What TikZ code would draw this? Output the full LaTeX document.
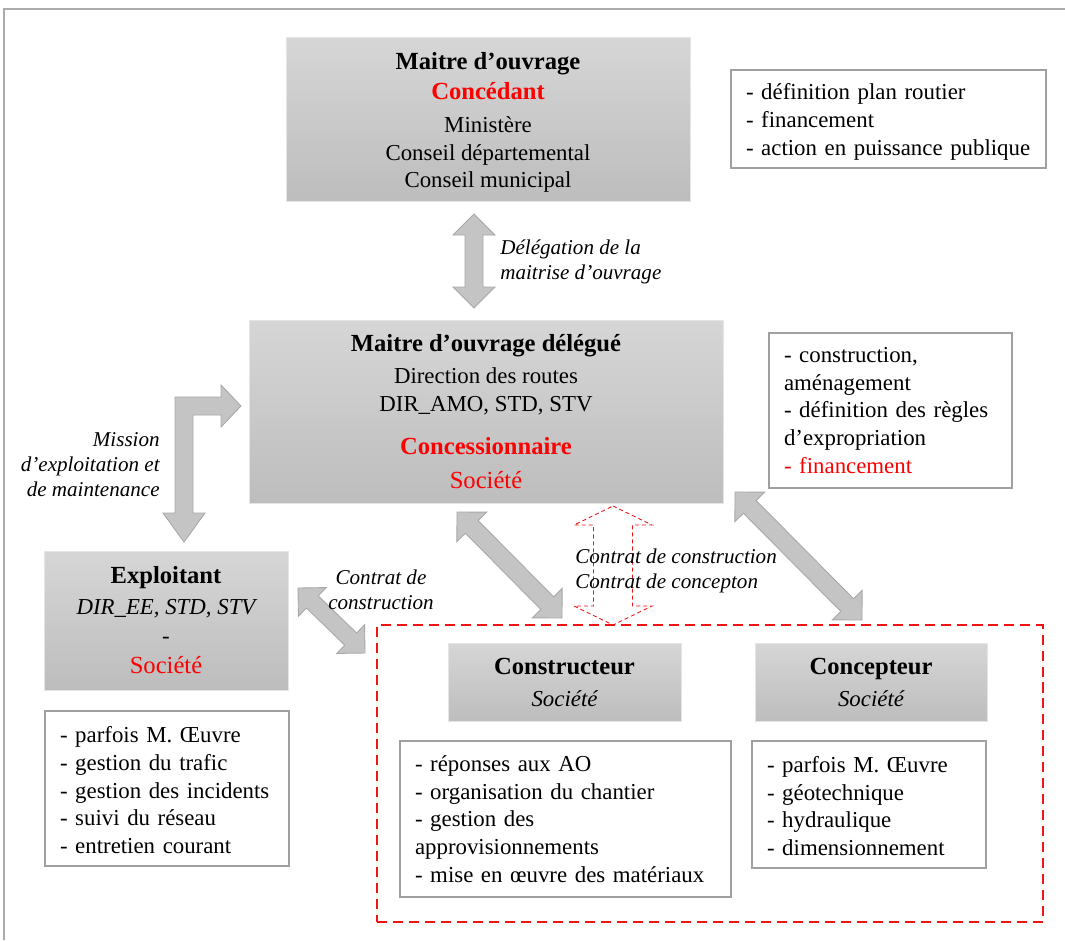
\documentclass[tikz,border=0pt]{standalone}
\usepackage{fontspec}
\setmainfont{Liberation Serif}
\usetikzlibrary{calc}
\definecolor{boxtop}{RGB}{214,214,214}
\definecolor{boxbot}{RGB}{189,189,189}
\definecolor{arrfill}{RGB}{196,196,196}
\definecolor{arrline}{RGB}{168,168,168}
\definecolor{listline}{RGB}{160,160,160}
\definecolor{framegray}{RGB}{170,170,170}
\definecolor{dashred}{RGB}{240,20,20}

\newcommand{\bodyfont}{\fontsize{13}{15.7}\selectfont}
\newcommand{\headfont}{\fontsize{14}{16}\selectfont\bfseries}
\newcommand{\labfont}{\fontsize{12}{14.2}\selectfont\itshape}

% block arrow with two heads: [style]{from}{to}{head length}{head half width}{shaft half width}
\newcommand{\blockarrow}[6][]{%
  \draw[flow,#1] (#2)
    -- ($(#2)!#4!(#3)!#5!90:(#3)$) -- ($(#2)!#4!(#3)!#6!90:(#3)$)
    -- ($(#3)!#4!(#2)!#6!-90:(#2)$) -- ($(#3)!#4!(#2)!#5!-90:(#2)$)
    -- (#3)
    -- ($(#3)!#4!(#2)!#5!90:(#2)$) -- ($(#3)!#4!(#2)!#6!90:(#2)$)
    -- ($(#2)!#4!(#3)!#6!-90:(#3)$) -- ($(#2)!#4!(#3)!#5!-90:(#3)$)
    -- cycle;}

\tikzset{
  actor/.style={rectangle,top color=boxtop,bottom color=boxbot,draw=white!90!black,line width=0.5pt,align=center,font=\bodyfont,inner sep=0pt},
  duties/.style={rectangle,draw=listline,line width=1.1pt,fill=white,align=left,font=\bodyfont,inner xsep=8.5pt,inner ysep=0pt},
  flow/.style={fill=arrfill,draw=arrline,line width=0.5pt,line join=miter},
  contract/.style={fill=none,draw=dashred,line width=0.5pt,dash pattern=on 2.3pt off 1.7pt},
  group/.style={rectangle,draw=dashred,line width=1.6pt,dash pattern=on 5.7pt off 3.4pt,inner sep=0pt},
  lab/.style={font=\labfont,inner sep=0pt}
}

\begin{document}
\begin{tikzpicture}[x=0.02cm,y=-0.02cm]
\useasboundingbox (0,0) rectangle (1065,940);

% page frame
\draw[framegray,line width=1.1pt] (4,940) -- (4,9) -- (1065,9);

% Maitre d'ouvrage
\node[actor,minimum width=8.08cm,minimum height=3.28cm] (mo) at (488,119)
  {\rule{0pt}{14pt}{\headfont Maitre d’ouvrage}\\[1.4pt]
   {\headfont\color{red}Concédant}\\[3pt]
   Ministère\\ Conseil départemental\\ Conseil municipal};
\node[duties,text width=5.7cm,minimum height=1.96cm] (molist) at (888.5,119)
  {\rule{0pt}{12.4pt}- définition plan routier\\ - financement\\ - action en puissance publique};

% Maitre d'ouvrage delegue
\node[actor,minimum width=9.48cm,minimum height=3.66cm] (mod) at (486,411.5)
  {{\headfont Maitre d’ouvrage délégué}\\[2.5pt]
   Direction des routes\\
   DIR\_AMO, STD, STV\\[8.8pt]
   {\headfont\color{red}Concessionnaire}\\[3.7pt]
   {\fontsize{14}{16}\selectfont\color{red}Société}};
\node[duties,text width=4.26cm,minimum height=3.1cm] (modlist) at (890.5,410.5)
  {- construction,\\ aménagement\\ - définition des règles\\ d’expropriation\\ \textcolor{red}{- financement}};

% Exploitant
\node[actor,minimum width=4.88cm,minimum height=2.78cm] (expl) at (166,620.5)
  {{\headfont Exploitant}\\[2pt]
   {\itshape DIR\_EE, STD, STV}\\[0.8pt]
   -\\[1.4pt]
   {\fontsize{14}{16}\selectfont\color{red}Société}};
\node[duties,text width=4.28cm,minimum height=3.1cm] (expllist) at (167,788.5)
  {\rule{0pt}{11pt}- parfois M. Œuvre\\ - gestion du trafic\\ - gestion des incidents\\ - suivi du réseau\\ - entretien courant};

% contracted firms
\node[group,minimum width=13.32cm,minimum height=5.94cm] (firms) at (710,773.5) {};
\node[actor,minimum width=4.66cm,minimum height=1.56cm] (cons) at (564.5,682)
  {{\headfont Constructeur}\\[2.5pt] {\itshape Société}};
\node[actor,minimum width=4.64cm,minimum height=1.56cm] (conc) at (871,682)
  {{\headfont Concepteur}\\[2.5pt] {\itshape Société}};
\node[duties,text width=6.02cm,minimum height=3.12cm] (conslist) at (565.5,819)
  {- réponses aux AO\\ - organisation du chantier\\ - gestion des\\ approvisionnements\\ - mise en œuvre des matériaux};
\node[duties,text width=4.08cm,minimum height=2.54cm] (conclist) at (869,804.5)
  {\rule{0pt}{11pt}- parfois M. Œuvre\\ - géotechnique\\ - hydraulique\\ - dimensionnement};

% arrow ends
\coordinate (delA) at (474,214);
\coordinate (delB) at (474,308);
\coordinate (ctA) at (298,588);
\coordinate (ctB) at (365,653);
\coordinate (csA) at (457,512);
\coordinate (csB) at (562,618);
\coordinate (cpA) at (735,492);
\coordinate (cpB) at (862,620);
\coordinate (ccA) at (613,506);
\coordinate (ccB) at (613,625);

% Arrows
\blockarrow{delA}{delB}{0.42cm}{0.42cm}{0.18cm}
\blockarrow{ctA}{ctB}{0.4cm}{0.4cm}{0.17cm}
\blockarrow{csA}{csB}{0.42cm}{0.42cm}{0.18cm}
\blockarrow{cpA}{cpB}{0.42cm}{0.42cm}{0.18cm}
\blockarrow[contract]{ccA}{ccB}{0.38cm}{0.78cm}{0.39cm}

% mission arrow (bent)
\draw[flow] (175,397) -- (221,397) -- (221,385) -- (241,406) -- (221,427) -- (221,415)
  -- (193,415) -- (193,513) -- (205,513) -- (184,542) -- (163,513) -- (175,513) -- cycle;

% Labels
\node[lab,anchor=west,align=left] (dellab) at (500,262) {Délégation de la\\ maitrise d’ouvrage};
\node[lab,anchor=east,align=right] (mislab) at (160,465) {Mission\\ d’exploitation et\\ de maintenance};
\node[lab,align=center] (ctlab) at (381,590) {Contrat de\\ construction};
\node[lab,anchor=west,align=left] (cclab) at (575,571) {Contrat de construction\\ Contrat de concepton};
\end{tikzpicture}
\end{document}
